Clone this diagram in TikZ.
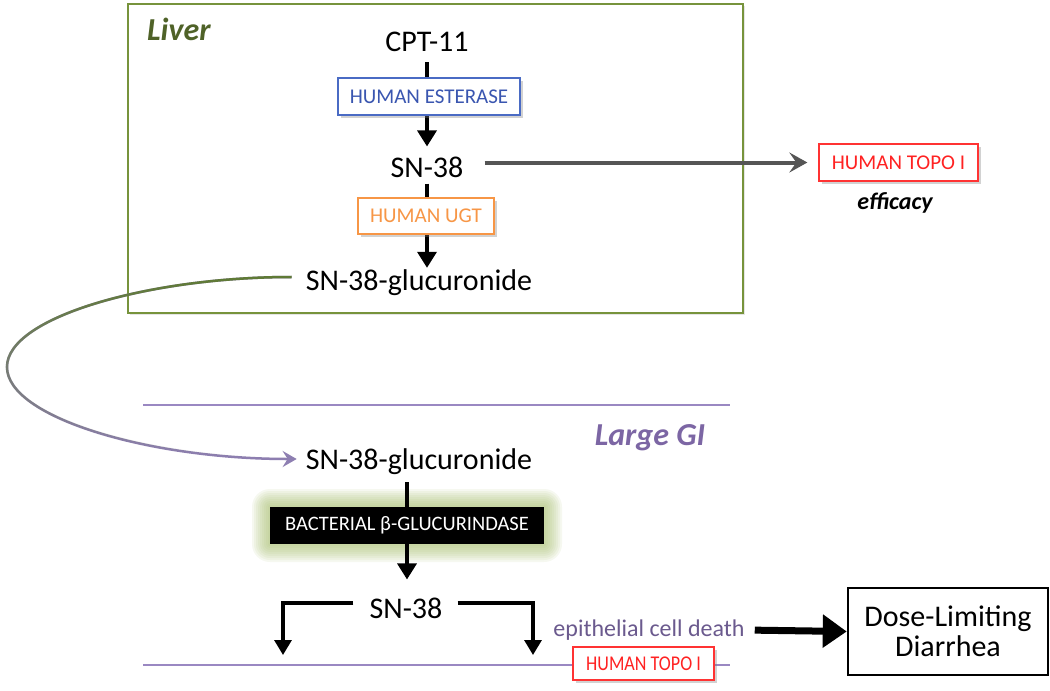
\documentclass[tikz,border=0pt]{standalone}
\usepackage{fontspec}
\setmainfont{Carlito}
\usetikzlibrary{arrows.meta,shadows,fadings,calc}
\definecolor{boxgreen}{HTML}{77933C}
\definecolor{liverc}{HTML}{4F6228}
\definecolor{bluec}{HTML}{4A6BC4}
\definecolor{bluetext}{HTML}{3A56B0}
\definecolor{orangec}{HTML}{F79646}
\definecolor{redc}{HTML}{FF3333}
\definecolor{redtext}{HTML}{FF2222}
\definecolor{grayarrow}{HTML}{555555}
\definecolor{curvegreen}{HTML}{5F7A35}
\definecolor{curvepurple}{HTML}{8E7FB2}
\definecolor{lineviolet}{HTML}{9A88C2}
\definecolor{gitext}{HTML}{7C66A4}
\definecolor{epitext}{HTML}{6B5A8E}
\definecolor{glowc}{HTML}{A8C070}
\tikzfading[name=gfade, top color=transparent!0, bottom color=transparent!100]
\begin{document}
\begin{tikzpicture}[x=1pt,y=-1pt,
  chem/.style={inner sep=0pt, font=\fontsize{30}{36}\selectfont},
  enz/.style={draw, fill=white, line width=1.3pt, inner sep=0pt,
    font=\fontsize{21}{25}\selectfont,
    drop shadow={shadow xshift=2.5pt, shadow yshift=-2.5pt, opacity=0.35}},
  arr/.style={line width=3.5pt, -{Triangle[width=19pt,length=16pt]}},
  arrb/.style={line width=3.2pt, -{Triangle[width=17pt,length=15pt]}},
  grayarr/.style={grayarrow, line width=4pt, -{Stealth[width=20pt,length=18pt,inset=7pt]}},
  bigarr/.style={line width=7pt, -{Triangle[width=32pt,length=24pt]}},
  violetline/.style={lineviolet, line width=1.6pt},
  region/.style={font=\fontsize{32}{38}\selectfont\bfseries\itshape, inner sep=0pt}
]
\useasboundingbox (0,0) rectangle (1050,691);
\fill[white] (0,0) rectangle (1050,691);

% Liver region
\node[draw=boxgreen, line width=1.5pt, minimum width=615pt, minimum height=309pt, inner sep=0pt,
  drop shadow={shadow xshift=2pt, shadow yshift=-2pt, opacity=0.2}, fill=white] (liverbox) at (435.5,158.5) {};
\node[region, text=liverc, anchor=base west] (liver) at (147,40) {Liver};

\node[chem] (cpt) at (427,42) {CPT-11};
\node[chem] (sn38) at (427,167) {SN-38};
\node[chem] (gluc) at (419,283) {SN-38-glucuronide};

\draw[arr, shorten <=10pt, shorten >=10pt] (cpt.south) -- (sn38.north);
\node[enz, draw=bluec, text=bluetext, minimum width=182pt, minimum height=37pt] (est) at (429,96.5) {HUMAN ESTERASE};
\draw[arr, shorten <=6pt, shorten >=2pt] (sn38.south) -- (sn38.south |- gluc.north);
\node[enz, draw=orangec, text=orangec, minimum width=136pt, minimum height=36pt] (ugt) at (426,216) {HUMAN UGT};

\node[enz, draw=redc, text=redtext, minimum width=159pt, minimum height=37pt] (topo1) at (898.5,162.5) {HUMAN TOPO I};
\draw[grayarr, shorten <=21pt, shorten >=11pt] (sn38.east |- topo1.west) -- (topo1.west);
\node[inner sep=0pt, font=\fontsize{24}{28}\selectfont\bfseries\itshape] (eff) at (895,203) {efficacy};

% transfer curve
\coordinate (bend) at (7,367);
\node[chem] (gluc2) at (419,462) {SN-38-glucuronide};
\draw[curvepurple, line width=2.5pt, -{Stealth[width=16pt,length=14pt,inset=5pt]}, shorten <=14pt, shorten >=9pt]
  ([yshift=6pt]gluc.west) .. controls +(-156,0) and +(0,-50) .. (bend)
  .. controls +(0,50) and +(-158,0) .. ([yshift=3pt]gluc2.west);
\draw[curvegreen, line width=2.5pt, path fading=gfade, shorten <=14pt, shorten >=9pt]
  ([yshift=6pt]gluc.west) .. controls +(-156,0) and +(0,-50) .. (bend)
  .. controls +(0,50) and +(-158,0) .. ([yshift=3pt]gluc2.west);

% Large GI region
\coordinate (gl1) at (143,405);
\coordinate (gr1) at (730,405);
\draw[violetline] (gl1) -- (gr1);
\node[region, text=gitext] (gi) at (650,438) {Large GI};

% bacterial enzyme with glow
\coordinate (bnw) at (270,507);
\coordinate (bse) at (544,544);
\coordinate (bc) at (407,525.5);
\foreach \i in {1,...,9}{
  \fill[glowc, opacity=0.1, rounded corners=2*\i pt] ($(bnw)+(-2*\i,-2*\i)$) rectangle ($(bse)+(2*\i,2*\i)$);
}
\node[chem] (sn38b) at (406,608) {SN-38};
\draw[arr, shorten <=7pt, shorten >=18pt] (bc |- gluc2.south) -- (bc |- sn38b.north);
\node[fill=black, text=white, inner sep=0pt, minimum width=274pt, minimum height=37pt,
  font=\fontsize{20.5}{24}\selectfont] (bact) at (bc) {BACTERIAL β-GLUCURINDASE};

% branches
\coordinate (tl) at (283,655);
\coordinate (tr) at (533,655);
\draw[arrb, shorten <=16pt] ([yshift=5pt]sn38b.west) -| (tl);
\draw[arrb, shorten <=15pt] ([yshift=5pt]sn38b.east) -| (tr);

\coordinate (gl2) at (143,665);
\coordinate (gr2) at (730,665);
\draw[violetline] (gl2) -- (gr2);
\node[enz, draw=redc, text=redtext, minimum width=141pt, minimum height=33pt] (topo2) at (643.5,663.5) {\scalebox{0.86}[1]{HUMAN TOPO I}};

\node[inner sep=0pt, text=epitext, font=\fontsize{24}{28}\selectfont] (epi) at (649,630) {epithelial cell death};
\node[draw, line width=2.5pt, minimum width=200pt, minimum height=87pt, inner sep=0pt, align=center,
  font=\fontsize{30}{30}\selectfont] (dose) at (948,631.5) {Dose-Limiting\\Diarrhea};
\draw[bigarr, shorten <=10pt] (epi.east) -- (dose.west);
\end{tikzpicture}
\end{document}
